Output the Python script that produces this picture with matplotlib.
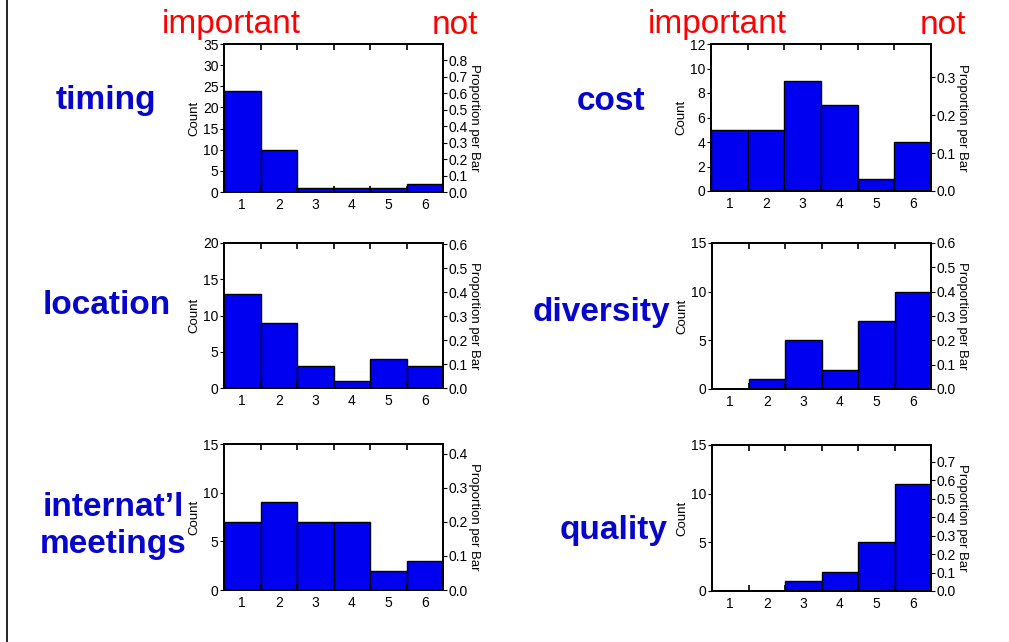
import matplotlib
matplotlib.use("Agg")
import matplotlib.pyplot as plt
from matplotlib.ticker import MultipleLocator, FixedLocator
from matplotlib.lines import Line2D

plt.rcParams['font.family'] = ['Liberation Sans', 'DejaVu Sans']

bins = [1, 2, 3, 4, 5, 6]
timing = [24, 10, 1, 1, 1, 2]
cost = [5, 5, 9, 7, 1, 4]
location = [13, 9, 3, 1, 4, 3]
diversity = [0, 1, 5, 2, 7, 10]
intl_meetings = [7, 9, 7, 7, 2, 3]
quality = [0, 0, 1, 2, 5, 11]

panels = [
    ("timing", timing, 35, 5, 0.8, (224, 44, 443, 192), (106, 100)),
    ("cost", cost, 12, 2, 0.3, (711, 44, 931, 191), (611, 102)),
    ("location", location, 20, 5, 0.6, (224, 243, 443, 388), (107, 306)),
    ("diversity", diversity, 15, 5, 0.6, (712, 243, 931, 389), (601, 313)),
    ("internat\u2019l\nmeetings", intl_meetings, 15, 5, 0.4, (224, 444, 443, 590), (113, 526)),
    ("quality", quality, 15, 5, 0.7, (712, 445, 931, 591), (614, 530)),
]

W, H = 1009, 642
fig = plt.figure(figsize=(W / 100, H / 100), dpi=100)

label_color = '#0505cc'
bar_color = '#0000f0'

for name, counts, cmax, cstep, pmax, (l, t, r, b), (lx, ly) in panels:
    ax = fig.add_axes([l / W, 1 - b / H, (r - l) / W, (b - t) / H])
    ax.bar(bins, counts, width=1.0, color=bar_color, edgecolor='black', linewidth=1.0)
    ax.set_xlim(0.5, 6.5)
    ax.set_ylim(0, cmax)
    ax.set_xticks(bins)
    ax.set_xticklabels([str(v) for v in bins])
    ax.xaxis.set_minor_locator(FixedLocator([1.5, 2.5, 3.5, 4.5, 5.5]))
    ax.tick_params(axis='x', which='major', length=0, labelsize=10, pad=4)
    ax.tick_params(axis='x', which='minor', length=4, direction='in', top=True, bottom=True, width=1.2)
    ax.yaxis.set_major_locator(MultipleLocator(cstep))
    ax.tick_params(axis='y', which='major', length=3, direction='out', labelsize=10, pad=1)
    ax.set_ylabel('Count', fontsize=9.5, labelpad=2)
    for s in ax.spines.values():
        s.set_linewidth(1.3)

    total = sum(counts)
    ax2 = ax.twinx()
    ax2.set_ylim(0, cmax / total)
    n = int(round(pmax / 0.1))
    ax2.set_yticks([i * 0.1 for i in range(n + 1)])
    ax2.set_yticklabels([f"{i * 0.1:.1f}" for i in range(n + 1)])
    ax2.tick_params(axis='y', length=3, direction='out', labelsize=10, pad=1)
    ax2.set_ylabel('Proportion per Bar', fontsize=9.5, rotation=270, labelpad=9)
    for s in ax2.spines.values():
        s.set_linewidth(1.3)

    fig.text(lx / W, 1 - ly / H, name, color=label_color, fontsize=24,
             fontweight='bold', ha='center', va='center', linespacing=1.25)

# column headers
for cx_imp, cx_not in [(231, 455), (717, 943)]:
    fig.text(cx_imp / W, 1 - 25 / H, 'important', color='red', fontsize=24,
             ha='center', va='center')
    fig.text(cx_not / W, 1 - 25 / H, 'not', color='red', fontsize=24,
             ha='center', va='center')

# left border line
fig.add_artist(Line2D([7 / W, 7 / W], [0, 1], color='black', linewidth=1.2,
                      transform=fig.transFigure))

fig.savefig('out.png', dpi=100)
